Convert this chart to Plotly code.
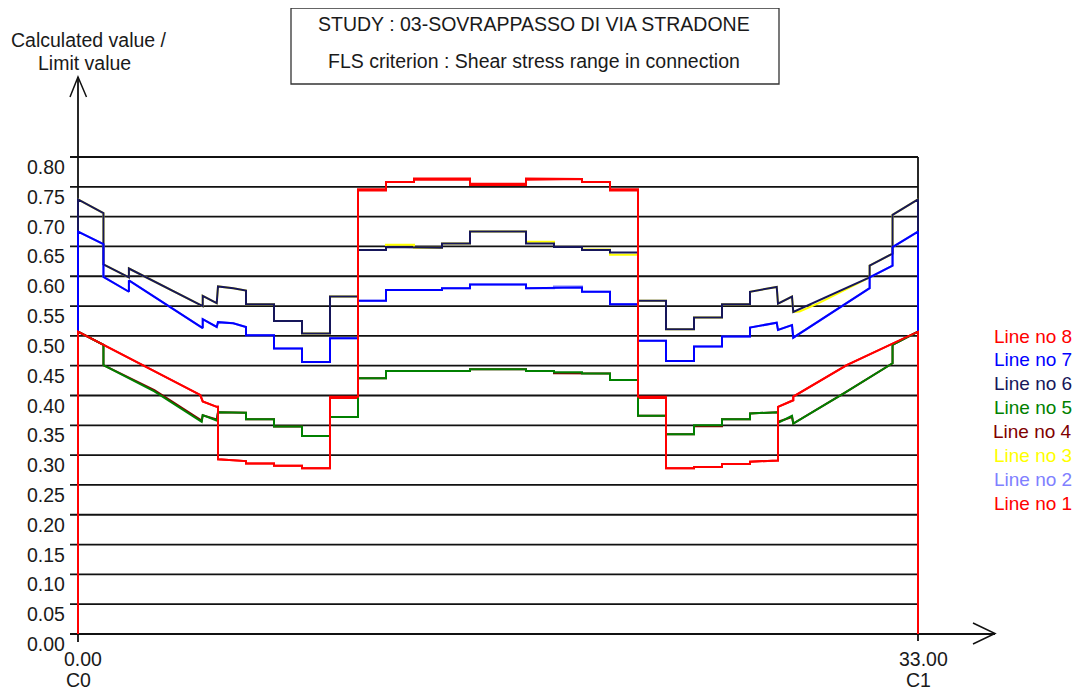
import plotly.graph_objects as go

# ---------------- DATA ----------------
TITLE_1 = "STUDY : 03-SOVRAPPASSO DI VIA STRADONE"
TITLE_2 = "FLS criterion : Shear stress range in connection"
Y_TITLE = ["Calculated value /", "Limit value"]
Y_TICKS = [0.00, 0.05, 0.10, 0.15, 0.20, 0.25, 0.30, 0.35, 0.40,
           0.45, 0.50, 0.55, 0.60, 0.65, 0.70, 0.75, 0.80]
X_START, X_END = 0.0, 33.0
X_LABELS = [("0.00", "C0"), ("33.00", "C1")]

# Line no 8 (red)
x8 = [0, 0, 4.8, 4.9, 5.45, 5.5, 5.5, 6.6, 6.6, 7.7, 7.7, 8.8, 8.8, 9.9, 9.9, 11, 11, 12.1, 12.1, 13.2, 13.2,
      15.4, 15.4, 17.6, 17.6, 18.7, 18.7, 19.8, 19.8, 20.9, 20.9, 22, 22, 23.1, 23.1, 24.2, 24.2, 25.3,
      25.3, 26.4, 26.4, 27.5, 27.5, 28.1, 28.1, 30.2, 33, 33]
y8 = [0, 0.507, 0.401, 0.390, 0.381, 0.381, 0.293, 0.290, 0.286, 0.286, 0.282, 0.282, 0.278, 0.278, 0.398,
      0.398, 0.746, 0.746, 0.758, 0.758, 0.764, 0.764, 0.755, 0.755, 0.764, 0.764, 0.763, 0.763, 0.758,
      0.758, 0.746, 0.746, 0.398, 0.398, 0.278, 0.278, 0.280, 0.280, 0.285, 0.285, 0.289, 0.291, 0.381,
      0.392, 0.398, 0.451, 0.507, 0]

# Line no 1 (red)
x1 = x8
y1 = [0, 0.507, 0.401, 0.390, 0.381, 0.381, 0.293, 0.290, 0.286, 0.286, 0.282, 0.282, 0.278, 0.278, 0.396,
      0.396, 0.744, 0.744, 0.758, 0.758, 0.762, 0.762, 0.753, 0.753, 0.762, 0.762, 0.763, 0.763, 0.758,
      0.758, 0.744, 0.744, 0.396, 0.396, 0.278, 0.278, 0.280, 0.280, 0.285, 0.285, 0.289, 0.291, 0.381,
      0.392, 0.398, 0.451, 0.507, 0]

# Line no 7 (blue)
x7 = [0, 0, 1.0, 1.0, 2.0, 2.0, 4.9, 4.9, 5.45, 5.5, 6.1, 6.6, 6.6, 7.7, 7.7, 8.8, 8.8, 9.9, 9.9, 11, 11,
      12.1, 12.1, 14.3, 14.3, 15.4, 15.4, 17.6, 17.6, 18.7, 18.7, 19.8, 19.8, 20.9, 20.9, 22, 22, 23.1,
      23.1, 24.2, 24.2, 25.3, 25.3, 26.4, 26.4, 27.45, 27.5, 28.05, 28.1, 31.1, 31.1, 32.0, 32.0, 33, 33]
y7 = [0, 0.675, 0.654, 0.599, 0.574, 0.593, 0.513, 0.528, 0.515, 0.523, 0.521, 0.515, 0.501, 0.501, 0.479,
      0.479, 0.456, 0.456, 0.496, 0.496, 0.559, 0.559, 0.577, 0.577, 0.580, 0.580, 0.586, 0.586, 0.580,
      0.580, 0.581, 0.581, 0.574, 0.574, 0.553, 0.553, 0.492, 0.492, 0.458, 0.458, 0.482, 0.482, 0.499,
      0.499, 0.514, 0.522, 0.510, 0.518, 0.497, 0.580, 0.598, 0.618, 0.649, 0.675, 0]

# Line no 2 (light blue)
x2 = x7
y2 = [0, 0.675, 0.654, 0.599, 0.574, 0.593, 0.513, 0.528, 0.515, 0.523, 0.521, 0.515, 0.501, 0.501, 0.479,
      0.479, 0.456, 0.456, 0.496, 0.496, 0.559, 0.559, 0.577, 0.577, 0.580, 0.580, 0.586, 0.586, 0.580,
      0.580, 0.583, 0.583, 0.574, 0.574, 0.553, 0.553, 0.492, 0.492, 0.458, 0.458, 0.482, 0.482, 0.499,
      0.499, 0.514, 0.522, 0.510, 0.518, 0.497, 0.580, 0.598, 0.618, 0.649, 0.675, 0]

# Line no 6 (navy)
x6 = [0, 0, 1.0, 1.0, 2.0, 2.0, 4.9, 4.9, 5.45, 5.5, 6.1, 6.6, 6.6, 7.7, 7.7, 8.8, 8.8, 9.9, 9.9, 11, 11,
      12.1, 12.1, 13.2, 13.2, 14.3, 14.3, 15.4, 15.4, 17.6, 17.6, 18.7, 18.7, 19.8, 19.8, 20.9, 20.9, 22,
      22, 23.1, 23.1, 24.2, 24.2, 25.3, 25.3, 26.4, 26.4, 27.45, 27.5, 28.05, 28.1, 31.1, 31.1, 32.0,
      32.0, 33, 33]
y6 = [0, 0.729, 0.706, 0.620, 0.598, 0.613, 0.550, 0.567, 0.555, 0.583, 0.580, 0.576, 0.553, 0.553, 0.525,
      0.525, 0.504, 0.504, 0.566, 0.566, 0.644, 0.644, 0.649, 0.649, 0.648, 0.648, 0.655, 0.655, 0.675,
      0.675, 0.655, 0.655, 0.649, 0.649, 0.644, 0.644, 0.640, 0.640, 0.559, 0.559, 0.511, 0.511, 0.531,
      0.531, 0.553, 0.553, 0.574, 0.582, 0.554, 0.566, 0.540, 0.598, 0.618, 0.638, 0.703, 0.729, 0]

# Line no 3 (yellow)
x3 = [0, 0, 1.0, 1.0, 2.0, 2.0, 4.9, 4.9, 5.45, 5.5, 6.1, 6.6, 6.6, 7.7, 7.7, 8.8, 8.8, 9.9, 9.9, 11, 11,
      12.1, 12.1, 13.2, 13.2, 14.3, 14.3, 15.4, 15.4, 17.6, 17.6, 18.7, 18.7, 19.8, 19.8, 20.9, 20.9, 22,
      22, 23.1, 23.1, 24.2, 24.2, 25.3, 25.3, 26.4, 26.4, 27.45, 27.5, 28.05, 28.1, 28.35, 29.1, 31.1,
      31.1, 32.0, 32.0, 33, 33]
y3 = [0, 0.729, 0.706, 0.620, 0.598, 0.613, 0.550, 0.567, 0.555, 0.583, 0.580, 0.576, 0.553, 0.553, 0.525,
      0.525, 0.504, 0.504, 0.566, 0.566, 0.644, 0.644, 0.653, 0.653, 0.648, 0.648, 0.655, 0.655, 0.675,
      0.675, 0.658, 0.658, 0.649, 0.649, 0.645, 0.645, 0.636, 0.636, 0.559, 0.559, 0.511, 0.511, 0.531,
      0.531, 0.553, 0.553, 0.574, 0.582, 0.554, 0.566, 0.540, 0.541, 0.555, 0.598, 0.618, 0.638, 0.703,
      0.729, 0]

# Line no 5 (green)
x5 = [0, 0, 1.0, 1.0, 3.0, 4.86, 4.9, 5.45, 5.5, 6.6, 6.6, 7.7, 7.7, 8.8, 8.8, 9.9, 9.9, 11, 11, 12.1,
      12.1, 15.4, 15.4, 17.6, 17.6, 18.7, 18.7, 19.8, 19.8, 20.9, 20.9, 22, 22, 23.1, 23.1, 24.2, 24.2,
      25.3, 25.3, 26.4, 26.4, 27.5, 27.5, 28.05, 28.1, 30.1, 32.0, 32.0, 33, 33]
y5 = [0, 0.507, 0.485, 0.451, 0.407, 0.356, 0.367, 0.358, 0.372, 0.371, 0.360, 0.360, 0.348, 0.348, 0.332,
      0.332, 0.364, 0.364, 0.429, 0.429, 0.441, 0.441, 0.444, 0.444, 0.441, 0.441, 0.439, 0.439, 0.437,
      0.437, 0.426, 0.426, 0.366, 0.366, 0.335, 0.335, 0.350, 0.350, 0.360, 0.360, 0.370, 0.372, 0.354,
      0.366, 0.353, 0.404, 0.454, 0.485, 0.507, 0]

# Line no 4 (dark red)
x4 = x5
y4 = [0, 0.507, 0.485, 0.451, 0.409, 0.358, 0.367, 0.360, 0.372, 0.371, 0.360, 0.360, 0.348, 0.348, 0.332,
      0.332, 0.364, 0.364, 0.429, 0.429, 0.441, 0.441, 0.444, 0.444, 0.441, 0.441, 0.4375, 0.4375, 0.437,
      0.437, 0.426, 0.426, 0.366, 0.366, 0.335, 0.335, 0.3485, 0.3485, 0.360, 0.360, 0.370, 0.372, 0.356,
      0.364, 0.353, 0.404, 0.454, 0.485, 0.507, 0]

LINES = [
    ("Line no 1", x1, y1, "#ff0000"),
    ("Line no 2", x2, y2, "#8080ff"),
    ("Line no 3", x3, y3, "#ffff00"),
    ("Line no 4", x4, y4, "#800000"),
    ("Line no 5", x5, y5, "#008000"),
    ("Line no 6", x6, y6, "#16165a"),
    ("Line no 7", x7, y7, "#0000ff"),
    ("Line no 8", x8, y8, "#ff0000"),
]

# ---------------- LAYOUT GEOMETRY (screen pixels of the page) ----------------
PAGE_OFF = 8                             # default body margin of the html page
W, H = 1082 - PAGE_OFF, 692 - PAGE_OFF
L, R, T, B = 60, 1000, 70, 650           # plot area, screen pixels
X0PX, X1PX = 78, 918                     # screen pixel of x=0 and x=33
Y0PX, Y1PX = 634, 157                    # screen pixel of y=0 and y=0.80
XS = (X1PX - X0PX) / (X_END - X_START)
YS = (Y0PX - Y1PX) / 0.80


def dx(px):
    return (px - X0PX) / XS


def dy(py):
    return (Y0PX - py) / YS


def pxp(px):
    return (px - L) / (R - L)


def pyp(py):
    return (B - py) / (B - T)


FONT = "Liberation Sans"
FS = 19.5
TXT = "#1a1a1a"
AX = "#111111"
fig = go.Figure()

for name, xs, ys, col in LINES:
    fig.add_trace(go.Scatter(x=xs, y=ys, mode="lines", name=name,
                             line=dict(color=col, width=2), showlegend=False,
                             hoverinfo="skip"))

shapes = []
for v in Y_TICKS[1:]:
    shapes.append(dict(type="line", xref="x", yref="y", x0=dx(70), x1=X_END, y0=v, y1=v,
                       line=dict(color=AX, width=1.8), layer="below"))
# x axis with arrow
shapes.append(dict(type="line", xref="x", yref="y", x0=dx(70), x1=dx(995), y0=0, y1=0,
                   line=dict(color=AX, width=1.8), layer="below"))
shapes.append(dict(type="path", xref="x", yref="y",
                   path=f"M {dx(973)} {dy(623)} L {dx(995)} {dy(633.5)} L {dx(973)} {dy(644)}",
                   line=dict(color=AX, width=1.5), layer="below"))
# y axis with arrow
shapes.append(dict(type="line", xref="x", yref="y", x0=0, x1=0, y0=dy(642), y1=dy(77),
                   line=dict(color=AX, width=1.8), layer="below"))
shapes.append(dict(type="path", xref="x", yref="y",
                   path=f"M {dx(70)} {dy(97)} L {dx(78)} {dy(77)} L {dx(86.5)} {dy(97)}",
                   line=dict(color=AX, width=1.5), layer="below"))
# right border at end of span + tick
shapes.append(dict(type="line", xref="x", yref="y", x0=X_END, x1=X_END, y0=dy(641), y1=0.80,
                   line=dict(color=AX, width=1.8), layer="below"))
# title box
shapes.append(dict(type="rect", xref="paper", yref="paper", x0=pxp(291), x1=pxp(779),
                   y0=pyp(84), y1=pyp(8), line=dict(color="#333333", width=1.3)))


def font(col=TXT, size=FS):
    return dict(family=FONT, size=size, color=col)


ann = []
for v in Y_TICKS:
    ann.append(dict(xref="paper", yref="y", x=pxp(67), y=v, xanchor="right", yanchor="middle",
                    yshift=-10, text=f"{v:.2f}", showarrow=False, font=font()))
for xv, (num, lab) in zip([X_START, X_END], X_LABELS):
    ann.append(dict(xref="x", yref="paper", x=xv, y=pyp(659), xanchor="center", yanchor="middle",
                    xshift=5, text=num, showarrow=False, font=font()))
    ann.append(dict(xref="x", yref="paper", x=xv, y=pyp(680), xanchor="center", yanchor="middle",
                    xshift=0, text=lab, showarrow=False, font=font()))
ann.append(dict(xref="paper", yref="paper", x=pxp(89), y=pyp(40), text=Y_TITLE[0], showarrow=False,
                xanchor="center", yanchor="middle", font=font()))
ann.append(dict(xref="paper", yref="paper", x=pxp(84), y=pyp(63), text=Y_TITLE[1], showarrow=False,
                xanchor="center", yanchor="middle", font=font()))
ann.append(dict(xref="paper", yref="paper", x=pxp(534), y=pyp(24), text=TITLE_1, showarrow=False,
                xanchor="center", yanchor="middle", font=font()))
ann.append(dict(xref="paper", yref="paper", x=pxp(534), y=pyp(61), text=TITLE_2, showarrow=False,
                xanchor="center", yanchor="middle", font=font()))
for i, (name, xs, ys, col) in enumerate(reversed(LINES)):
    ann.append(dict(xref="paper", yref="paper", x=pxp(1074), y=pyp(336 + i * 23.9), text=name,
                    showarrow=False, xanchor="right", yanchor="middle", font=font(col, 19)))

fig.update_layout(
    width=W, height=H,
    margin=dict(l=L - PAGE_OFF, r=W - (R - PAGE_OFF), t=T - PAGE_OFF, b=H - (B - PAGE_OFF), pad=0),
    paper_bgcolor="white", plot_bgcolor="white",
    xaxis=dict(range=[dx(L), dx(R)], visible=False, fixedrange=True),
    yaxis=dict(range=[dy(B), dy(T)], visible=False, fixedrange=True),
    shapes=shapes, annotations=ann, showlegend=False,
)

fig.write_html("out.html")
